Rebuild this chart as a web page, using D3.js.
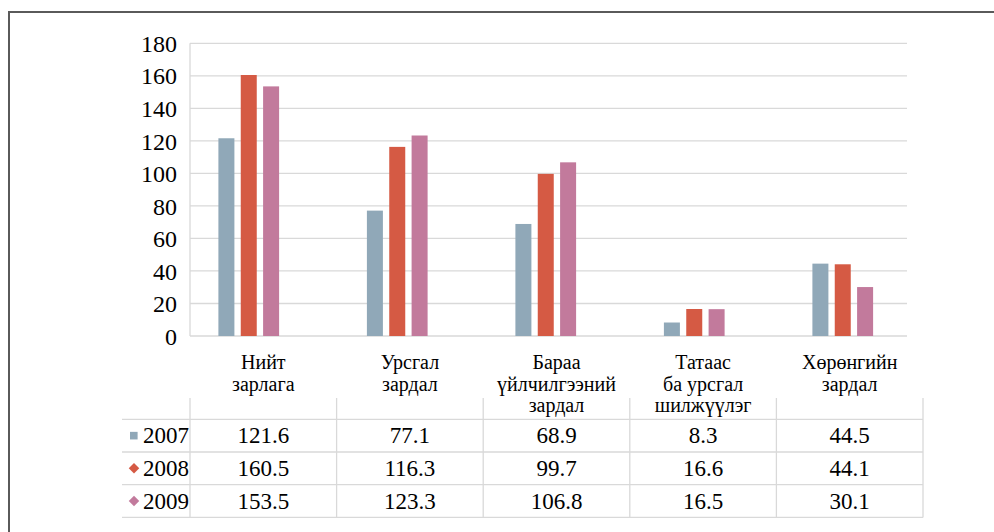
<!DOCTYPE html>
<html>
<head>
<meta charset="utf-8">
<script src="https://cdn.jsdelivr.net/npm/d3@7"></script>
<style>
  html, body { margin: 0; padding: 0; background: #fff; }
  svg { display: block; }
</style>
</head>
<body>
<svg id="chart" width="994" height="532"></svg>
<script>
// Expense categories (label lines) and yearly values
const categories = ["Нийт зарлага", "Урсгал зардал", "Бараа үйлчилгээний зардал", "Татаас ба урсгал шилжүүлэг", "Хөрөнгийн зардал"];
const categoryLines = [
  ["Нийт", "зарлага"],
  ["Урсгал", "зардал"],
  ["Бараа", "үйлчилгээний", "зардал"],
  ["Татаас", "ба урсгал", "шилжүүлэг"],
  ["Хөрөнгийн", "зардал"]
];
const years = ["2007", "2008", "2009"];
const values2007 = [121.6, 77.1, 68.9, 8.3, 44.5];
const values2008 = [160.5, 116.3, 99.7, 16.6, 44.1];
const values2009 = [153.5, 123.3, 106.8, 16.5, 30.1];
const yTicks = [0, 20, 40, 60, 80, 100, 120, 140, 160, 180];

const seriesValues = [values2007, values2008, values2009];
const colors = ["#90a8b8", "#d55a44", "#c27a9c"];
const serif = "'Liberation Serif', Tinos, 'Times New Roman', Times, 'DejaVu Serif', serif";

const svg = d3.select("#chart");

// outer frame
svg.append("rect")
  .attr("x", 9).attr("y", 12).attr("width", 1000).attr("height", 600)
  .attr("fill", "none").attr("stroke", "#5a5a5a").attr("stroke-width", 2);

const plotLeft = 190, plotRight = 907, plotTop = 43.3, plotBottom = 336;
const tableRight = 923;

const y = d3.scaleLinear().domain([0, 180]).range([plotBottom, plotTop]);

// columns of the data table (also used for category labels)
const xCol = d3.scaleBand().domain(categories).range([plotLeft, tableRight]);
// bar groups
const xGroup = d3.scaleBand().domain(categories).range([174.5, 917]);
const xBar = d3.scaleBand().domain(years).range([-30.35, 30.35]).paddingInner(0.284);

// horizontal gridlines
svg.append("g").selectAll("line").data(yTicks).join("line")
  .attr("x1", plotLeft).attr("x2", plotRight)
  .attr("y1", d => y(d)).attr("y2", d => y(d))
  .attr("stroke", "#d9d9d9").attr("stroke-width", 1.3);

// left edge of plot
svg.append("line")
  .attr("x1", plotLeft).attr("x2", plotLeft)
  .attr("y1", plotTop).attr("y2", plotBottom)
  .attr("stroke", "#d9d9d9").attr("stroke-width", 1.3);

// y axis labels
const yAxis = d3.axisLeft(y).tickValues(yTicks).tickSize(0).tickPadding(13);
const yg = svg.append("g").attr("transform", `translate(${plotLeft},0)`).call(yAxis);
yg.select(".domain").remove();
yg.selectAll("text")
  .style("font-family", serif)
  .attr("font-size", 24).attr("fill", "#000").attr("dy", "0.34em");

// bars
const bars = svg.append("g");
years.forEach((yr, s) => {
  bars.selectAll(`rect.s${s}`).data(categories).join("rect")
    .attr("class", `s${s}`)
    .attr("x", (c) => xGroup(c) + xGroup.bandwidth() / 2 + xBar(yr))
    .attr("width", xBar.bandwidth())
    .attr("y", (c, i) => y(seriesValues[s][i]))
    .attr("height", (c, i) => y(0) - y(seriesValues[s][i]))
    .attr("fill", colors[s]);
});

// category labels
const labelG = svg.append("g");
categories.forEach((c, i) => {
  const t = labelG.append("text")
    .attr("x", xCol(c) + xCol.bandwidth() / 2)
    .attr("y", 369)
    .attr("text-anchor", "middle")
    .style("font-family", serif)
    .attr("font-size", 20).attr("fill", "#000");
  categoryLines[i].forEach((line, k) => {
    t.append("tspan").attr("x", xCol(c) + xCol.bandwidth() / 2)
      .attr("dy", k === 0 ? 0 : 21.5).text(line);
  });
});

// data table
const tableTop = 398, rowTop = 419.3, rowH = 32.7, tableLeft = 122;
const rowY = d3.scaleBand().domain(years).range([rowTop, rowTop + rowH * years.length]);
const tg = svg.append("g");

// horizontal rules
const hRules = [rowTop].concat(years.map(yr => rowY(yr) + rowY.bandwidth()));
tg.selectAll("line.h").data(hRules).join("line").attr("class", "h")
  .attr("x1", tableLeft).attr("x2", tableRight)
  .attr("y1", d => d).attr("y2", d => d)
  .attr("stroke", "#d9d9d9").attr("stroke-width", 1.3);

// vertical rules
const vRules = [plotLeft].concat(categories.map(c => xCol(c) + xCol.bandwidth()));
tg.selectAll("line.v").data(vRules).join("line").attr("class", "v")
  .attr("x1", d => d).attr("x2", d => d)
  .attr("y1", tableTop).attr("y2", hRules[hRules.length - 1])
  .attr("stroke", "#d9d9d9").attr("stroke-width", 1.3);

// legend keys and year labels
years.forEach((yr, s) => {
  const cy = rowY(yr) + rowY.bandwidth() / 2;
  if (s === 0) {
    tg.append("rect").attr("x", 130).attr("y", cy - 3.8).attr("width", 7.6).attr("height", 7.6)
      .attr("fill", colors[s]);
  } else {
    tg.append("path")
      .attr("d", d3.symbol(d3.symbolDiamond2, 70)())
      .attr("transform", `translate(134,${cy})`)
      .attr("fill", colors[s]);
  }
  tg.append("text").attr("x", 143).attr("y", cy + 7.5)
    .style("font-family", serif)
    .attr("font-size", 23).attr("fill", "#000").text(yr);

  categories.forEach((c, i) => {
    tg.append("text")
      .attr("x", xCol(c) + xCol.bandwidth() / 2)
      .attr("y", cy + 7.5)
      .attr("text-anchor", "middle")
      .style("font-family", serif)
      .attr("font-size", 23).attr("fill", "#000")
      .text(seriesValues[s][i].toFixed(1));
  });
});
</script>
</body>
</html>
